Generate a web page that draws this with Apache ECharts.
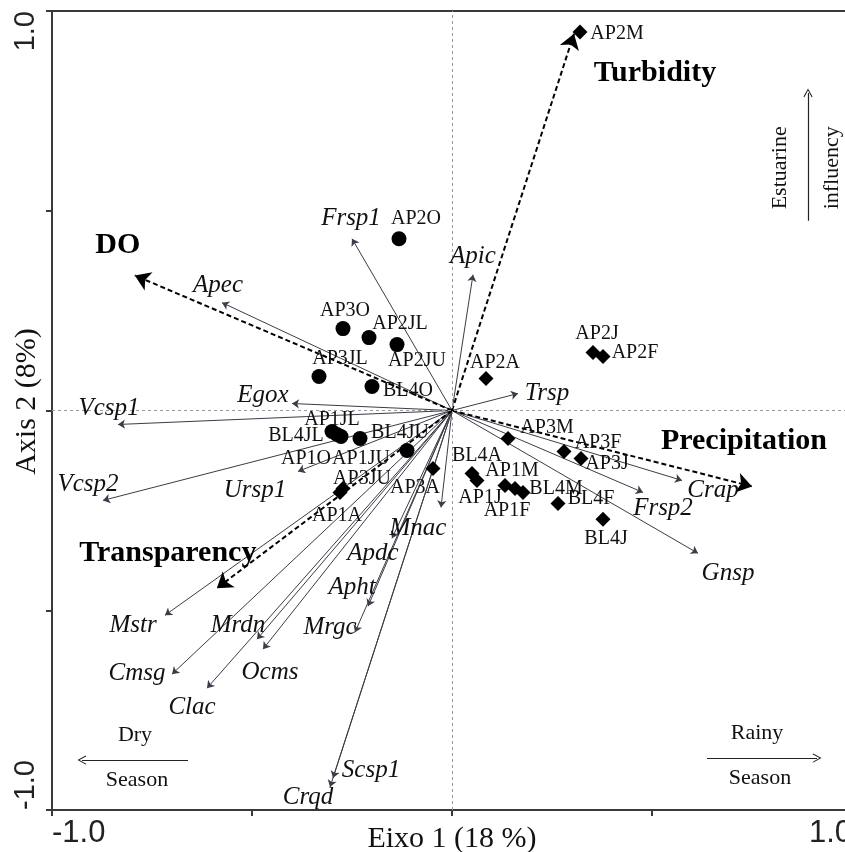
<!DOCTYPE html>
<html><head><meta charset="utf-8">
<script src="https://cdn.jsdelivr.net/npm/echarts@6/dist/echarts.min.js"></script>
<style>html,body{margin:0;padding:0;background:#fff}#c{width:845px;height:852px}</style>
</head><body><div id="c"></div>
<script>
// ---------- DATA ----------
const axisMin = -1.0, axisMax = 1.0, axisStep = 0.5;
const tickLabels = ['-1.0', '1.0'];
const xName = 'Eixo 1 (18 %)';
const yName = 'Axis 2 (8%)';

// environmental vectors (tips)
const envNames = ['DO', 'Turbidity', 'Precipitation', 'Transparency'];
const envX = [-0.793, 0.305, 0.75, -0.588];
const envY = [0.338, 0.943, -0.19, -0.445];

// species vectors (tips)
const spNames = ['Frsp1','Apic','Apec','Egox','Vcsp1','Vcsp2','Ursp1','Trsp','Crap','Frsp2','Gnsp','Mnac','Apdc','Apht','Mrgc','Mstr','Mrdn','Ocms','Cmsg','Clac','Scsp1','Crqd'];
const spX = [-0.25, 0.0525, -0.575, -0.40, -0.835, -0.8725, -0.385, 0.165, 0.575, 0.4775, 0.615, -0.0275, -0.15, -0.21, -0.2425, -0.7175, -0.4875, -0.4725, -0.70, -0.6125, -0.2975, -0.305];
const spY = [0.43, 0.34, 0.27, 0.0175, -0.035, -0.225, -0.1525, 0.0425, -0.175, -0.205, -0.3575, -0.2425, -0.32, -0.49, -0.555, -0.5125, -0.5725, -0.5975, -0.66, -0.695, -0.92, -0.9425];

// dry season samples (circles)
const dryNames = ['AP2O','AP3O','AP2JL','AP2JU','AP3JL','BL4O','AP1JL','BL4JL','AP1O','AP1JU','BL4JU'];
const dryX = [-0.1325, -0.2725, -0.2075, -0.1375, -0.3325, -0.20, -0.30, -0.2875, -0.2775, -0.23, -0.1125];
const dryY = [0.43, 0.205, 0.1825, 0.165, 0.085, 0.06, -0.0525, -0.06, -0.065, -0.07, -0.10];

// rainy season samples (diamonds)
const rainyNames = ['AP2M','AP2A','AP2J','AP2F','AP3M','AP3F','AP3J','BL4A','AP1J','AP1M','AP1F','BL4M','BL4F','BL4J','AP3A','AP3JU','AP1A'];
const rainyX = [0.32, 0.085, 0.3525, 0.3775, 0.14, 0.28, 0.3225, 0.05, 0.0625, 0.1325, 0.1575, 0.1775, 0.265, 0.3775, -0.0475, -0.28, -0.2725];
const rainyY = [0.9475, 0.08, 0.145, 0.135, -0.07, -0.1025, -0.12, -0.1575, -0.175, -0.1875, -0.195, -0.205, -0.2325, -0.2725, -0.145, -0.205, -0.195];

// annotation texts
const noteTexts = ['Dry', 'Season', 'Rainy', 'Season', 'Estuarine', 'influency'];
const noteX = [-0.7925, -0.7875, 0.7625, 0.77, 0.82, 0.95];
const noteY = [-0.8125, -0.925, -0.8075, -0.92, 0.6075, 0.6075];
const noteRot = [0, 0, 0, 0, 90, 90];
// annotation arrows [x0,y0,x1,y1]
const noteArrows = [[-0.66, -0.875, -0.925, -0.875], [0.6375, -0.87, 0.9125, -0.87], [0.89, 0.475, 0.89, 0.795]];

// ---------- STYLE: label offsets (px) ----------
const off = {
  DO:[-17,-30], Turbidity:[81,39], Precipitation:[-8,-45], Transparency:[-49,-35],
  Frsp1:[-1,-20], Apic:[0,-18], Apec:[-4,-17], Egox:[-29,-8], Vcsp1:[-9,-16], Vcsp2:[-15,-16],
  Ursp1:[-43,19], Trsp:[29,0], Crap:[31,10], Frsp2:[20,16], Gnsp:[30,20], Mnac:[-23,21],
  Apdc:[-19,15], Apht:[-16,-19], Mrgc:[-25,-5], Mstr:[-32,10], Mrdn:[-19,-14], Ocms:[7,23],
  Cmsg:[-35,-1], Clac:[-15,19], Scsp1:[38,-8], Crqd:[-22,10],
  AP2O:[17,-20], AP3O:[2,-18], AP2JL:[31,-14], AP2JU:[20,16], AP3JL:[21,-18], BL4O:[36,4],
  AP1JL:[0,-12], BL4JL:[-41,1], AP1O:[-35,22], AP1JU:[1,20], BL4JU:[-7,-18],
  AP2M:[37,2], AP2A:[9,-16], AP2J:[4,-19], AP2F:[32,-4], AP3M:[39,-11], AP3F:[34,-9], AP3J:[26,5],
  BL4A:[5,-18], AP1J:[3,17], AP1M:[7,-15], AP1F:[-8,22], BL4M:[33,-4], BL4F:[33,-5], BL4J:[3,19],
  AP3A:[-18,19], AP3JU:[22,-14], AP1A:[-6,27]
};
const SERIF = '"Liberation Serif", "Times New Roman", serif';
const SANS = '"Liberation Sans", Arial, sans-serif';

function pts(names, xs, ys) {
  return names.map((n, i) => ({ name: n, value: [xs[i], ys[i]], label: { offset: off[n] || [0, 0] } }));
}
function vecs(xs, ys) {
  return xs.map((x, i) => ({ coords: [[0, 0], [x, ys[i]]] }));
}
const chevron = 'path://M0,10 L10,0 L20,10 L18.5,11 L10,2.5 L1.5,11 Z';
const tickFmt = v => (Math.abs(v - axisMin) < 1e-9 ? tickLabels[0] : (Math.abs(v - axisMax) < 1e-9 ? tickLabels[1] : ''));
const txt = (extra) => Object.assign({ show: true, position: 'inside', formatter: '{b}', fontFamily: SERIF,
  color: '#000', opacity: 1, textBorderWidth: 0, textShadowBlur: 0 }, extra);

const chart = echarts.init(document.getElementById('c'), null, { renderer: 'canvas' });
chart.setOption({
  backgroundColor: '#fff',
  animation: false,
  grid: { left: 52, right: -7, top: 11, bottom: 42, show: true, borderColor: '#3a3a3a', borderWidth: 2,
    containLabel: false, outerBoundsMode: 'none' },
  xAxis: {
    type: 'value', min: axisMin, max: axisMax, interval: axisStep,
    name: xName, nameLocation: 'middle', nameGap: 14, nameMoveOverlap: false,
    nameTextStyle: { fontFamily: SERIF, fontSize: 30, color: '#111', verticalAlign: 'top' },
    axisLine: { show: true, onZero: false, lineStyle: { color: '#3a3a3a', width: 2 } },
    axisTick: { show: true, length: 6, lineStyle: { color: '#3a3a3a', width: 2 } },
    splitLine: { show: false },
    axisLabel: { formatter: tickFmt, fontFamily: SANS, fontSize: 31, color: '#222', margin: 8,
      alignMinLabel: 'left', alignMaxLabel: 'right', showMinLabel: true, showMaxLabel: true }
  },
  yAxis: {
    type: 'value', min: axisMin, max: axisMax, interval: axisStep,
    name: yName, nameLocation: 'middle', nameGap: 10, nameRotate: 90, nameMoveOverlap: false,
    nameTextStyle: { fontFamily: SERIF, fontSize: 30, color: '#111', padding: [0, 0, 0, 18] },
    axisLine: { show: true, onZero: false, lineStyle: { color: '#3a3a3a', width: 2 } },
    axisTick: { show: true, length: 6, lineStyle: { color: '#3a3a3a', width: 2 } },
    splitLine: { show: false },
    axisLabel: { formatter: tickFmt, fontFamily: SANS, fontSize: 29, color: '#222', margin: 12, rotate: 90,
      alignMinLabel: 'left', alignMaxLabel: 'right', showMinLabel: true, showMaxLabel: true }
  },
  series: [
    { // zero reference lines
      type: 'scatter', data: [], silent: true,
      markLine: { silent: true, symbol: 'none', animation: false, label: { show: false },
        lineStyle: { color: '#9a9a9a', type: [3, 3], width: 1 },
        data: [{ xAxis: 0 }, { yAxis: 0 }] }
    },
    { // species vectors
      type: 'lines', coordinateSystem: 'cartesian2d', silent: true, z: 3,
      symbol: ['none', 'arrow'], symbolSize: 7,
      lineStyle: { color: '#3c3c48', width: 1, opacity: 1 },
      data: vecs(spX, spY)
    },
    { // environmental vectors
      type: 'lines', coordinateSystem: 'cartesian2d', silent: true, z: 4,
      symbol: ['none', 'arrow'], symbolSize: 15,
      lineStyle: { color: '#000', width: 2, type: [5, 3], opacity: 1 },
      data: vecs(envX, envY)
    },
    { // annotation arrows
      type: 'lines', coordinateSystem: 'cartesian2d', silent: true, z: 3,
      symbol: ['none', chevron], symbolSize: [16, 9],
      lineStyle: { color: '#222', width: 1.2, opacity: 1 },
      data: noteArrows.map(a => ({ coords: [[a[0], a[1]], [a[2], a[3]]] }))
    },
    { // dry season samples
      type: 'scatter', name: 'dry', symbol: 'circle', symbolSize: 15, z: 6,
      itemStyle: { color: '#000', opacity: 1 },
      label: txt({ fontSize: 20, color: '#111' }),
      data: pts(dryNames, dryX, dryY)
    },
    { // rainy season samples
      type: 'scatter', name: 'rainy', symbol: 'diamond', symbolSize: 15, z: 6,
      itemStyle: { color: '#000', opacity: 1 },
      label: txt({ fontSize: 20, color: '#111' }),
      data: pts(rainyNames, rainyX, rainyY)
    },
    { // species labels
      type: 'scatter', symbolSize: 0.01, z: 7, itemStyle: { color: '#000', opacity: 1 },
      label: txt({ fontStyle: 'italic', fontSize: 25, color: '#111' }),
      data: pts(spNames, spX, spY)
    },
    { // environmental labels
      type: 'scatter', symbolSize: 0.01, z: 7, itemStyle: { color: '#000', opacity: 1 },
      label: txt({ fontWeight: 'bold', fontSize: 30, color: '#000' }),
      data: pts(envNames, envX, envY)
    },
    { // annotation texts
      type: 'scatter', symbolSize: 0.01, z: 7, itemStyle: { color: '#000', opacity: 1 },
      label: txt({ fontSize: 22, color: '#111' }),
      data: noteTexts.map((t, i) => ({ name: t, value: [noteX[i], noteY[i]], label: { rotate: noteRot[i] } }))
    }
  ]
});
</script></body></html>
